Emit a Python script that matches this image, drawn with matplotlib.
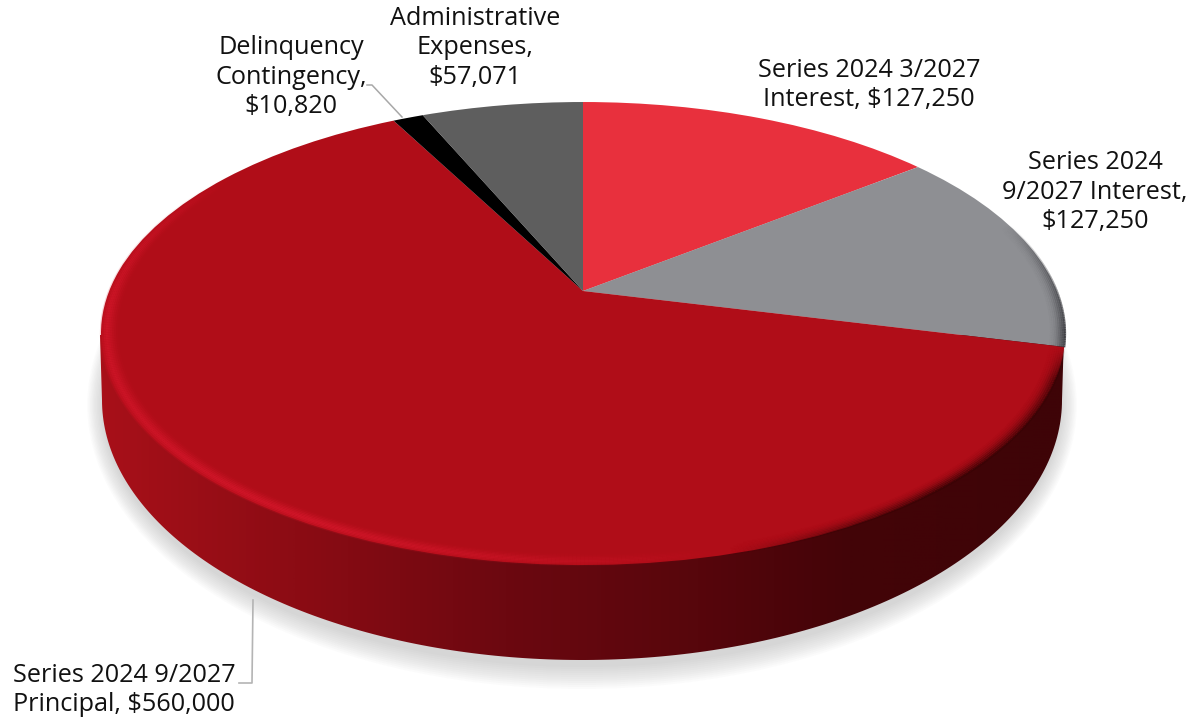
import numpy as np
import matplotlib
matplotlib.use("Agg")
from matplotlib import pyplot as plt
from matplotlib.collections import LineCollection
from matplotlib.colors import LinearSegmentedColormap
from matplotlib.patches import Ellipse, Polygon
from matplotlib.transforms import Transform

names = ["Series 2024 3/2027\nInterest,", "Series 2024\n9/2027 Interest,\n",
         "Series 2024 9/2027\nPrincipal,", "Delinquency\nContingency,\n",
         "Administrative\nExpenses,\n"]
values = [127250, 127250, 560000, 10820, 57071]
colors = ["#e8303d", "#8e8f93", "#b00d18", "#000000", "#5e5e5e"]
label_pos = [(869, 85), (1095, 192), (124, 690), (291, 77), (475, 48)]

plt.rcParams['font.family'] = ['Open Sans', 'DejaVu Sans']

# pie centre and tilt, in pixels
cx, cy = 583, 291
A, B, P = 473.8, 223.7, 0.1837


class Tilt(Transform):
    # maps the unit circle of the pie onto the perspective top face
    input_dims = 2
    output_dims = 2
    is_affine = False

    def transform_non_affine(self, xy):
        xy = np.asarray(xy, dtype=float)
        d = 1 + P * xy[:, 1]
        return np.column_stack([cx + A * xy[:, 0] / d, cy - B * xy[:, 1] / d])


fig = plt.figure(figsize=(11.98, 7.23), dpi=100)
ax = fig.add_axes([0, 0, 1, 1])

wedges, _ = ax.pie(values, startangle=90, counterclock=False, radius=1,
                   colors=colors, wedgeprops={"linewidth": 0})
tilt = Tilt() + ax.transData
for w in wedges:
    w.set_transform(tilt)
    w.set_zorder(3)

# soft shadow under the disc
for grow in np.arange(24, 0, -2):
    ax.add_patch(Ellipse((582, 405), 2 * (478 + grow * 0.7), 2 * (260 + grow),
                         fc="#555555", ec="none", alpha=0.018, zorder=0))

# side wall
t = np.linspace(0, np.pi, 200)
low_x = 582 + 480 * np.cos(t)
low_y = 400 + 260 * np.sin(t)
outline = np.column_stack([np.r_[1064, low_x, 100], np.r_[335, low_y, 335]])
clip = Polygon(outline, closed=True, transform=ax.transData, fc="none", ec="none")
ax.add_patch(clip)
wall_cmap = LinearSegmentedColormap.from_list(
    "wall", [(0, "#a81019"), (0.2, "#8c0c14"), (0.42, "#6c0810"), (0.62, "#57060c"),
             (0.78, "#430408"), (1, "#3e0407")])
img = ax.imshow(np.linspace(0, 1, 512)[None, :], cmap=wall_cmap, extent=(100, 1064, 670, 320),
                aspect="auto", zorder=1, interpolation="bilinear")
img.set_clip_path(clip)

# bevel along the top face rim
th = np.radians(np.linspace(45, 335, 700))
mid = (th[:-1] + th[1:]) / 2
deg = np.degrees(mid)
bright = np.clip((deg - 165) / 45, 0, 1) * np.clip((305 - deg) / 40, 0, 1)
dark_red = np.clip((deg - 103.8) / 8, 0, 1) * np.clip((165 - deg) / 25, 0, 1)
dark_gray = np.clip((deg - 72) / 28, 0, 1) * (deg < 103.8)
for r, bw, dw in [(1.000, 0.2, 0.85), (0.996, 0.4, 0.65), (0.992, 0.6, 0.5), (0.988, 0.7, 0.35),
                  (0.984, 0.6, 0.22), (0.980, 0.45, 0.12), (0.976, 0.3, 0.06), (0.972, 0.18, 0.03),
                  (0.968, 0.08, 0.0)]:
    xs, ys = r * np.sin(th), r * np.cos(th)
    pts = np.column_stack([xs, ys])
    segs = np.stack([pts[:-1], pts[1:]], axis=1)
    rgba = np.zeros((len(mid), 4))
    on = bright > 0
    rgba[on, :3] = (0.84, 0.09, 0.17)
    rgba[on, 3] = bright[on] * bw
    on = dark_red > 0
    rgba[on, :3] = (0.22, 0.01, 0.02)
    rgba[on, 3] = dark_red[on] * dw
    on = dark_gray > 0
    rgba[on, :3] = (0.2, 0.2, 0.22)
    rgba[on, 3] = dark_gray[on] * dw
    ax.add_collection(LineCollection(segs, colors=rgba, linewidths=1.6, transform=tilt,
                                     zorder=4, capstyle="butt"))

# leader lines
ax.plot([367, 372, 402], [85, 85, 117], color="#a8a8a8", lw=1.1, zorder=5)
ax.plot([253, 252, 239], [600, 683, 683], color="#b4b4b4", lw=1.2, zorder=5)

for name, val, (lx, ly) in zip(names, values, label_pos):
    sep = "" if name.endswith("\n") else " "
    ax.text(lx, ly, f"{name}{sep}${val:,}", ha="center", va="center", fontsize=18.2,
            color="#111111", linespacing=1.24, zorder=6)

ax.set_xlim(0, 1198)
ax.set_ylim(723, 0)
ax.set_aspect("auto")
ax.axis("off")

fig.savefig("out.png", dpi=100)
